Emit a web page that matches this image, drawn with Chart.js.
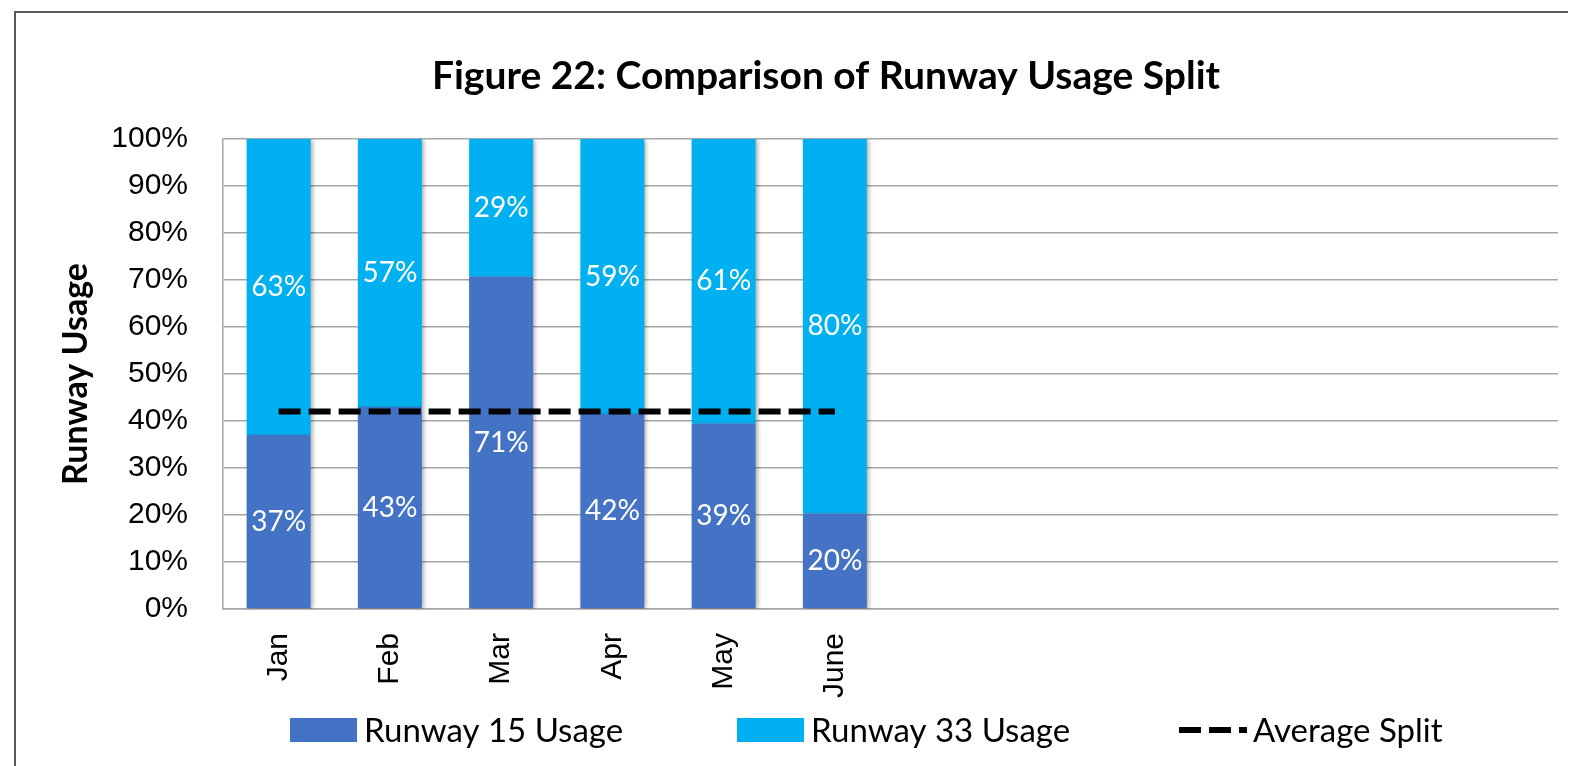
<!DOCTYPE html>
<html>
<head>
<meta charset="utf-8">
<title>Figure 22: Comparison of Runway Usage Split</title>
<script src="https://cdn.jsdelivr.net/npm/chart.js@4.4.1/dist/chart.umd.min.js"></script>
<style>
  html, body { margin: 0; padding: 0; background: #fff; }
  #wrap { width: 1578px; height: 766px; }
</style>
</head>
<body>
<div id="wrap"><canvas id="runway-usage" width="1578" height="766"></canvas></div>
<script>
// months, only first half of the year reported so far
const months = ['Jan', 'Feb', 'Mar', 'Apr', 'May', 'June', '', '', '', '', '', ''];
const runway15 = [37, 43, 70.7, 41.5, 39.4, 20.3];
const runway33 = [63, 57, 29.3, 58.5, 60.6, 79.7];
const averageSplit = [42, 42, 42, 42, 42, 42];

const chartTitle = 'Figure 22: Comparison of Runway Usage Split';
const blue15 = '#4472C4';
const blue33 = '#00B0F0';
const gridGrey = '#A6A6A6';

// white % labels in the middle of each bar segment
const barLabels = {
  id: 'barLabels',
  afterDatasetsDraw(chart) {
    const ctx = chart.ctx;
    ctx.save();
    ctx.font = '28px Lato';
    ctx.fillStyle = '#fff';
    ctx.textAlign = 'center';
    ctx.textBaseline = 'middle';
    chart.data.datasets.forEach((ds, i) => {
      if (ds.type !== 'bar') return;
      chart.getDatasetMeta(i).data.forEach((bar, j) => {
        const v = ds.data[j];
        if (v == null) return;
        const p = bar.getProps(['x', 'y', 'base'], true);
        ctx.fillText(Math.round(v) + '%', p.x, (p.y + p.base) / 2);
      });
    });
    ctx.restore();
  }
};

// soft shadow on the bars, like the office chart
const barShadow = {
  id: 'barShadow',
  beforeDatasetDraw(chart, args) {
    if (chart.data.datasets[args.index].type !== 'bar') return;
    const ctx = chart.ctx;
    ctx.save();
    ctx.shadowColor = 'rgba(0,0,0,0.3)';
    ctx.shadowBlur = 4;
    ctx.shadowOffsetX = 2;
    ctx.shadowOffsetY = 1;
  },
  afterDatasetDraw(chart, args) {
    if (chart.data.datasets[args.index].type !== 'bar') return;
    chart.ctx.restore();
  }
};

// outer frame (left + top edge visible in the source) and the title,
// which sits a bit right of the canvas centre in the source
const frame = {
  id: 'frame',
  beforeDraw(chart) {
    const ctx = chart.ctx;
    ctx.save();
    ctx.strokeStyle = '#595959';
    ctx.lineWidth = 2;
    ctx.beginPath();
    ctx.moveTo(15, chart.height);
    ctx.lineTo(15, 12);
    ctx.lineTo(1568, 12);
    ctx.stroke();
    ctx.font = 'bold 39px Lato';
    ctx.fillStyle = '#000';
    ctx.textAlign = 'center';
    ctx.textBaseline = 'middle';
    ctx.fillText(chartTitle, 826, 76);
    ctx.restore();
  }
};

// legend drawn by hand so the items can sit far apart
const wideLegend = {
  id: 'wideLegend',
  afterDraw(chart) {
    const ctx = chart.ctx;
    const slots = [290, 737, 1179];
    const cy = 730;
    ctx.save();
    ctx.font = '33px Lato';
    ctx.textBaseline = 'middle';
    ctx.textAlign = 'left';
    chart.data.datasets.forEach((ds, i) => {
      const x = slots[i];
      if (ds.type === 'bar') {
        ctx.fillStyle = ds.backgroundColor;
        ctx.fillRect(x, cy - 12, 67, 24);
      } else {
        ctx.strokeStyle = ds.borderColor;
        ctx.lineWidth = ds.borderWidth;
        ctx.setLineDash(ds.borderDash);
        ctx.beginPath();
        ctx.moveTo(x, cy);
        ctx.lineTo(x + 68, cy);
        ctx.stroke();
        ctx.setLineDash([]);
      }
      ctx.fillStyle = '#000';
      ctx.fillText(ds.label, x + 74, cy + 1);
    });
    ctx.restore();
  }
};

new Chart('runway-usage', {
  type: 'bar',
  data: {
    labels: months,
    datasets: [{
      type: 'bar',
      label: 'Runway 15 Usage',
      data: runway15,
      backgroundColor: blue15,
      order: 1
    }, {
      type: 'bar',
      label: 'Runway 33 Usage',
      data: runway33,
      backgroundColor: blue33,
      order: 1
    }, {
      type: 'line',
      label: 'Average Split',
      data: averageSplit,
      borderColor: '#000',
      borderWidth: 6,
      borderDash: [22, 8],
      pointRadius: 0,
      fill: false,
      order: 0
    }]
  },
  options: {
    responsive: false,
    animation: false,
    layout: { padding: { left: 0, right: 20, top: 139, bottom: 66 } },
    datasets: {
      bar: { barPercentage: 0.575, categoryPercentage: 1 }
    },
    plugins: {
      legend: { display: false },
      tooltip: { enabled: false },
      title: { display: false }
    },
    scales: {
      x: {
        stacked: true,
        grid: { display: false, drawTicks: false },
        border: { display: true, color: gridGrey, width: 1.5 },
        ticks: {
          autoSkip: false,
          maxRotation: 90,
          minRotation: 90,
          padding: 24,
          color: '#000',
          font: { family: 'Liberation Sans', size: 30 }
        },
        afterFit(scale) { scale.height = 91; }
      },
      y: {
        stacked: true,
        min: 0,
        max: 100,
        grid: { color: gridGrey, lineWidth: 1.5, drawTicks: false },
        border: { display: true, color: gridGrey, width: 1.5 },
        ticks: {
          stepSize: 10,
          padding: 35,
          color: '#000',
          font: { family: 'Liberation Sans', size: 30 },
          callback: v => v + '%'
        },
        title: {
          display: true,
          text: 'Runway Usage',
          color: '#000',
          font: { family: 'Lato', size: 34, weight: 'bold' },
          padding: { top: 56, bottom: 0 }
        },
        afterFit(scale) { scale.width = 223; }
      }
    }
  },
  plugins: [frame, barShadow, barLabels, wideLegend]
});
</script>
</body>
</html>
